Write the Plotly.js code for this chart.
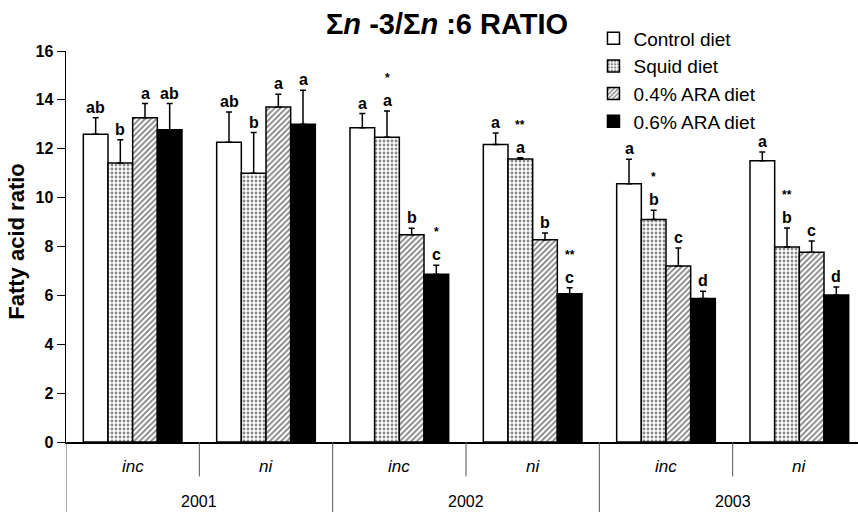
<!DOCTYPE html>
<html><head><meta charset="utf-8">
<script src="https://cdn.plot.ly/plotly-3.0.1.min.js"></script>
<style>html,body{margin:0;padding:0;background:#fff}</style>
</head><body><div id="chart" style="width:858px;height:512px"></div>
<script>
// ---- data ----
const categories = ['inc', 'ni', 'inc', 'ni', 'inc', 'ni'];
const years = ['2001', '2002', '2003'];
const seriesNames = ['Control diet', 'Squid diet', '0.4% ARA diet', '0.6% ARA diet'];

const control    = [12.59, 12.27, 12.86, 12.17, 10.57, 11.51];
const controlErr = [0.68, 1.23, 0.58, 0.47, 1.00, 0.36];
const squid      = [11.42, 11.00, 12.47, 11.58, 9.10, 7.98];
const squidErr   = [0.95, 1.66, 1.07, 0.05, 0.38, 0.78];
const ara04      = [13.27, 13.71, 8.48, 8.28, 7.20, 7.76];
const ara04Err   = [0.58, 0.52, 0.27, 0.27, 0.74, 0.46];
const ara06      = [12.78, 13.00, 6.86, 6.07, 5.87, 6.02];
const ara06Err   = [1.07, 1.39, 0.37, 0.24, 0.30, 0.32];

const controlLetters = ['ab', 'ab', 'a', 'a', 'a', 'a'];
const squidLetters   = ['b', 'b', 'a', 'a', 'b', 'b'];
const ara04Letters   = ['a', 'a', 'b', 'b', 'c', 'c'];
const ara06Letters   = ['ab', 'a', 'c', 'c', 'd', 'd'];

const controlStars = ['', '', '', '', '', ''];
const squidStars   = ['', '', '*', '**', '*', '**'];
const ara04Stars   = ['', '', '', '', '', ''];
const ara06Stars   = ['', '', '*', '**', '', ''];

// ---- build ----
const FONT = 'Arial, "Liberation Sans", sans-serif';
const xIdx = categories.map((_, i) => i);
const BARGAP = 0.26;
const barW = (1 - BARGAP) / 4;

const values = [control, squid, ara04, ara06];
const errs = [controlErr, squidErr, ara04Err, ara06Err];
const letters = [controlLetters, squidLetters, ara04Letters, ara06Letters];
const stars = [controlStars, squidStars, ara04Stars, ara06Stars];
const fills = ['#ffffff', '#ffffff', '#ffffff', '#000000'];
const patterns = [
  {shape: ''},
  {shape: '.', fgcolor: '#111', bgcolor: '#fff', size: 4, solidity: 0.4, fillmode: 'overlay'},
  {shape: '/', fgcolor: '#000', bgcolor: '#fff', size: 4, solidity: 0.45, fillmode: 'overlay'},
  {shape: ''}
];

const traces = values.map((vals, s) => ({
  type: 'bar',
  name: seriesNames[s],
  x: xIdx,
  y: vals,
  marker: {color: fills[s], line: {color: '#000', width: 1.5}, pattern: patterns[s]},
  error_y: {type: 'data', symmetric: false, array: errs[s], arrayminus: vals.map(() => 0),
            color: '#000', thickness: 1.5, width: 3},
  hoverinfo: 'skip'
}));

const annotations = [];
values.forEach((vals, s) => {
  vals.forEach((v, g) => {
    const x = g + (s - 1.5) * barW;
    const top = v + errs[s][g];
    annotations.push({x: x, y: top, xref: 'x', yref: 'y', text: letters[s][g], showarrow: false,
      yanchor: 'bottom', yshift: 0, font: {family: FONT, size: 16, weight: 'bold', color: '#000'}});
    if (stars[s][g]) {
      annotations.push({x: x, y: top, xref: 'x', yref: 'y', text: stars[s][g], showarrow: false,
        yanchor: 'bottom', yshift: 24, font: {family: FONT, size: 12, weight: 'bold', color: '#000'}});
    }
  });
});
categories.forEach((c, g) => {
  annotations.push({x: g, y: -0.062, xref: 'x', yref: 'paper', text: '<i>' + c + '</i>', showarrow: false,
    yanchor: 'middle', font: {family: FONT, size: 17, color: '#000'}});
});
years.forEach((yr, k) => {
  annotations.push({x: 2 * k + 0.5, y: -0.151, xref: 'x', yref: 'paper', text: yr, showarrow: false,
    yanchor: 'middle', font: {family: FONT, size: 16, color: '#000'}});
});
// y-axis title
annotations.push({x: -0.062, y: 0.512, xref: 'paper', yref: 'paper', text: 'Fatty acid ratio', showarrow: false,
  textangle: -90, xanchor: 'center', yanchor: 'middle',
  font: {family: FONT, size: 22, weight: 'bold', color: '#000'}});

const shapes = [];
[-0.5, 1.5, 3.5].forEach(x => shapes.push({type: 'line', xref: 'x', yref: 'paper', x0: x, x1: x, y0: 0, y1: -0.18,
  line: {color: '#555', width: 1}}));
[0.5, 2.5, 4.5].forEach(x => shapes.push({type: 'line', xref: 'x', yref: 'paper', x0: x, x1: x, y0: 0, y1: -0.088,
  line: {color: '#555', width: 1}}));

const layout = {
  width: 858, height: 512,
  margin: {l: 66, r: 0, t: 51, b: 70},
  paper_bgcolor: '#fff', plot_bgcolor: '#fff',
  font: {family: FONT, color: '#000'},
  barmode: 'group', bargap: BARGAP, bargroupgap: 0,
  title: {text: 'Σ<i>n</i> -3/Σ<i>n</i> :6 RATIO', x: 0.521, xref: 'container', xanchor: 'center',
          y: 0.953, yref: 'container', yanchor: 'middle',
          font: {family: FONT, size: 29, weight: 'bold', color: '#000'}},
  xaxis: {range: [-0.5, 5.44], showticklabels: false, ticks: '', showgrid: false, zeroline: false,
          showline: true, linecolor: '#000', linewidth: 1.5, fixedrange: true},
  yaxis: {range: [0, 16], dtick: 2, ticks: 'outside', ticklen: 8, tickwidth: 1, tickcolor: '#000',
          showgrid: false, zeroline: false, showline: true, linecolor: '#000', linewidth: 1.5,
          tickfont: {family: FONT, size: 16, weight: 'bold', color: '#000'},
          fixedrange: true},
  showlegend: true,
  legend: {x: 0.666, y: 1.081, xanchor: 'left', yanchor: 'top', bgcolor: 'rgba(0,0,0,0)',
           font: {family: FONT, size: 19, color: '#000'}, traceorder: 'normal'},
  annotations: annotations,
  shapes: shapes
};

Plotly.newPlot('chart', traces, layout, {displayModeBar: false, staticPlot: true});
</script>
</body></html>
